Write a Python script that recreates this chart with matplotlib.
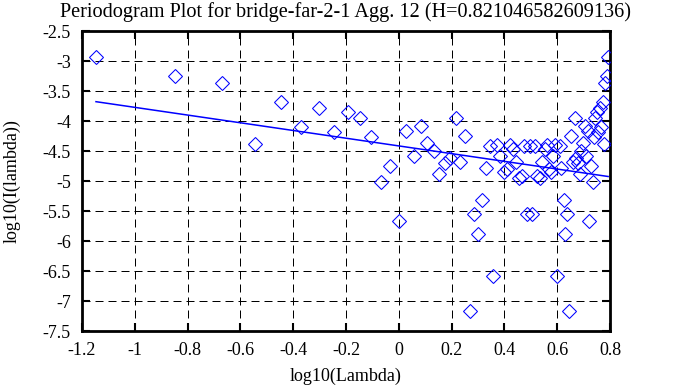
import matplotlib
matplotlib.use("Agg")
import matplotlib.pyplot as plt

# log10 of the Fourier frequencies (k = 1..87)
log_lambda = [
    -1.147, -0.846, -0.670, -0.545, -0.448, -0.369, -0.302, -0.244, -0.193, -0.147,
    -0.106, -0.068, -0.033, -0.001, 0.029, 0.057, 0.083, 0.108, 0.132, 0.154,
    0.175, 0.195, 0.215, 0.233, 0.251, 0.268, 0.284, 0.300, 0.315, 0.330,
    0.344, 0.358, 0.372, 0.384, 0.397, 0.409, 0.421, 0.433, 0.444, 0.455,
    0.466, 0.476, 0.486, 0.496, 0.506, 0.516, 0.525, 0.534, 0.543, 0.552,
    0.561, 0.569, 0.577, 0.585, 0.593, 0.601, 0.609, 0.616, 0.624, 0.631,
    0.638, 0.645, 0.652, 0.659, 0.666, 0.673, 0.679, 0.686, 0.692, 0.698,
    0.704, 0.710, 0.716, 0.722, 0.728, 0.734, 0.739, 0.745, 0.751, 0.756,
    0.761, 0.767, 0.772, 0.777, 0.782, 0.787, 0.793,
]

# log10 of the periodogram values
log_I = [
    -2.93, -3.245, -3.36, -4.38, -3.69, -4.105, -3.78, -4.19, -3.845, -3.945,
    -4.27, -5.01, -4.745, -5.67, -4.16, -4.58, -4.08, -4.36, -4.50, -4.88,
    -4.70, -4.62, -3.955, -4.68, -4.25, -7.17, -5.55, -5.88, -5.31, -4.79,
    -4.42, -6.58, -4.40, -4.58, -4.85, -4.80, -4.40, -4.46, -4.68, -4.95,
    -4.92, -4.42, -5.55, -4.42, -5.55, -4.42, -4.92, -4.95, -4.68, -4.46,
    -4.40, -4.80, -4.85, -4.58, -4.40, -6.58, -4.42, -4.79, -5.31, -5.88,
    -5.55, -7.17, -4.25, -4.68, -3.955, -4.62, -4.70, -4.88, -4.50, -4.36,
    -4.08, -4.58, -4.16, -5.67, -4.745, -5.01, -4.27, -3.945, -3.845, -4.19,
    -3.78, -4.105, -3.69, -4.38, -3.36, -3.245, -2.93,
]

# fitted regression line endpoints
fit_x = [-1.147, 0.793]
fit_y = [-3.678, -4.925]

title = "Periodogram Plot for bridge-far-2-1 Agg. 12 (H=0.821046582609136)"
xticks = [-1.2, -1, -0.8, -0.6, -0.4, -0.2, 0, 0.2, 0.4, 0.6, 0.8]
yticks = [-2.5, -3, -3.5, -4, -4.5, -5, -5.5, -6, -6.5, -7, -7.5]


def main():
    plt.rcParams['font.family'] = ['Liberation Serif', 'DejaVu Serif']
    plt.rcParams['font.size'] = 13
    plt.rcParams['axes.unicode_minus'] = False

    fig = plt.figure(figsize=(6.78, 3.87), dpi=100)
    ax = fig.add_axes([82 / 678, 1 - 331 / 387, 528 / 678, 300 / 387])

    # сетка
    for x in xticks[1:-1]:
        ax.axvline(x, color='black', lw=0.72, ls=(0, (8, 5)), zorder=1)
    for y in yticks[1:-1]:
        ax.axhline(y, color='black', lw=0.72, ls=(0, (8, 5)), zorder=1)

    ax.plot(log_lambda, log_I, ls='none', marker='D', markersize=6.8,
            markerfacecolor='none', markeredgecolor='#0000ff',
            markeredgewidth=0.75, zorder=3)
    ax.plot(fit_x, fit_y, color='#0000ff', lw=1.1, zorder=4)

    ax.set_xlim(-1.2, 0.8)
    ax.set_ylim(-7.5, -2.5)
    ax.set_xticks(xticks)
    ax.set_yticks(yticks)
    ax.set_xticklabels([f"{v:g}" for v in xticks])
    ax.set_yticklabels([f"{v:g}" for v in yticks])
    ax.tick_params(direction='in', length=6, width=1.5, top=True, right=True)
    ax.tick_params(axis='x', pad=8)
    ax.tick_params(axis='y', pad=8)
    for s in ax.spines.values():
        s.set_linewidth(2)

    ax.set_xlabel("log10(Lambda)", labelpad=6)
    ax.set_ylabel("log10(I(lambda))", labelpad=16)
    ax.set_title(title, pad=10, fontsize=14.6)

    fig.savefig("out.png", dpi=100)


if __name__ == '__main__':
    main()
